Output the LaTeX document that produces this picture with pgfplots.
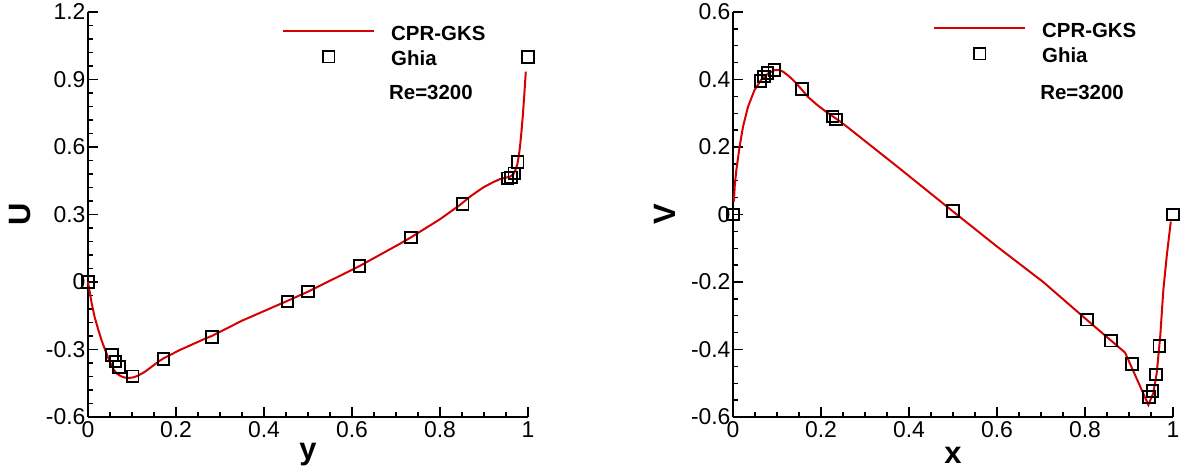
\documentclass[border=0pt]{standalone}
\usepackage{fontspec}
\setmainfont{Liberation Sans}
\usepackage{pgfplots}
\pgfplotsset{compat=1.18}
\definecolor{cprred}{RGB}{215,0,0}

\pgfplotstableread{
x y
0 0
0.004 -0.045
0.0084 -0.095
0.015 -0.155
0.0235 -0.213
0.031 -0.26
0.039 -0.302
0.05 -0.357
0.058 -0.388
0.065 -0.406
0.075 -0.419
0.084 -0.425
0.095 -0.426
0.105 -0.423
0.114 -0.416
0.13 -0.398
0.145 -0.376
0.16 -0.354
0.171 -0.34
0.209 -0.302
0.266 -0.252
0.2813 -0.240
0.35 -0.172
0.4531 -0.084
0.5 -0.043
0.6172 0.071
0.709 0.170
0.7344 0.199
0.8 0.279
0.845 0.342
0.87 0.382
0.898 0.420
0.92 0.443
0.936 0.457
0.948 0.463
0.959 0.468
0.967 0.480
0.972 0.500
0.976 0.525
0.979 0.560
0.982 0.605
0.985 0.665
0.988 0.735
0.991 0.815
0.993 0.875
0.995 0.935
}\cprU

\pgfplotstableread{
x y
0.0000 0.0
0.0547 -0.32407
0.0625 -0.35344
0.0703 -0.37827
0.1016 -0.41933
0.1719 -0.34323
0.2813 -0.24427
0.4531 -0.08636
0.5000 -0.04272
0.6172 0.07156
0.7344 0.19791
0.8516 0.34682
0.9531 0.46101
0.9609 0.46547
0.9688 0.48296
0.9766 0.53236
1.0000 1.0
}\ghiaU

\pgfplotstableread{
x y
0.002 0.038
0.004 0.085
0.0076 0.132
0.015 0.201
0.0227 0.26
0.034 0.319
0.049 0.369
0.064 0.399
0.08 0.418
0.095 0.428
0.105 0.428
0.114 0.423
0.127 0.41
0.14 0.394
0.155 0.372
0.17 0.349
0.19 0.326
0.208 0.308
0.243 0.276
0.261 0.258
0.38 0.135
0.499 0.01
0.6 -0.095
0.705 -0.200
0.804 -0.312
0.891 -0.409
0.944 -0.564
0.955 -0.53
0.963 -0.47
0.971 -0.36
0.978 -0.224
0.986 -0.12
0.995 -0.021
}\cprV

\pgfplotstableread{
x y
0.0000 0.0
0.0625 0.39560
0.0703 0.40917
0.0781 0.41906
0.0938 0.42768
0.1563 0.37119
0.2266 0.29030
0.2344 0.28188
0.5000 0.00999
0.8047 -0.31184
0.8594 -0.37401
0.9063 -0.44307
0.9453 -0.54053
0.9531 -0.52357
0.9609 -0.47425
0.9688 -0.39017
1.0000 0.0
}\ghiaV

\pgfplotsset{
  mystyle/.style={
    scale only axis, width=440bp, height=405bp,
    axis x line*=bottom, axis y line*=left,
    axis line style={line width=2bp, black},
    xmin=0, xmax=1,
    xtick={0,0.2,0.4,0.6,0.8,1},
    xticklabels={0,0.2,0.4,0.6,0.8,1},
    minor x tick num=3,
    tick align=inside,
    major tick length=10bp, minor tick length=5bp,
    every tick/.style={line width=1.4bp, black},
    ticklabel style={font=\fontsize{23}{26}\selectfont},
    xticklabel style={yshift=-1bp},
    yticklabel style={xshift=1bp},
    label style={font=\bfseries\fontsize{31}{34}\selectfont},
    xlabel style={at={(axis description cs:0.5,-0.0938)}, anchor=center},
    ylabel style={at={(axis description cs:-0.1545,0.5)}, anchor=center},
    clip=false,
    legend cell align=left,
    legend style={draw=none, fill=none, inner sep=0pt,
      font=\bfseries\fontsize{20.5}{24}\selectfont,
      nodes={inner sep=0pt, text height=16bp, text depth=5bp},
      row sep=4bp,
      /tikz/every odd column/.append style={column sep=16bp}},
  },
  lineleg/.style={legend image code/.code={\draw[##1] (0bp,4bp) -- (91bp,4bp);}},
  markleg/.style={legend image code/.code={\draw[##1] plot coordinates {(45.5bp,3bp)};}},
}

\begin{document}
\begin{tikzpicture}
\path[use as bounding box] (0,0) rectangle (1182bp,475bp);

\begin{axis}[mystyle, at={(88bp,58bp)}, anchor=south west,
  ymin=-0.6, ymax=1.2,
  ytick={-0.6,-0.3,0,0.3,0.6,0.9,1.2},
  yticklabels={-0.6,-0.3,0,0.3,0.6,0.9,1.2},
  minor y tick num=4,
  xlabel={y}, ylabel={U},
  legend style={at={(axis description cs:0.441,1)}, anchor=north west, yshift=-12bp}]
\addplot[cprred, line width=2bp, lineleg] table {\cprU};
\addlegendentry{CPR-GKS}
\addplot[only marks, mark=square, mark size=5.8bp, black, line width=1.9bp, markleg] table {\ghiaU};
\addlegendentry{Ghia}
\node[anchor=west, inner sep=0pt, font=\bfseries\fontsize{20.5}{24}\selectfont] at (axis cs:0.684,0.844) {Re=3200};
\end{axis}

\begin{axis}[mystyle, at={(733bp,58bp)}, anchor=south west,
  ymin=-0.6, ymax=0.6,
  ytick={-0.6,-0.4,-0.2,0,0.2,0.4,0.6},
  yticklabels={-0.6,-0.4,-0.2,0,0.2,0.4,0.6},
  minor y tick num=3,
  xlabel={x}, ylabel={V},
  legend style={at={(axis description cs:0.4545,1)}, anchor=north west, yshift=-9bp}]
\addplot[cprred, line width=2bp, lineleg] table {\cprV};
\addlegendentry{CPR-GKS}
\addplot[only marks, mark=square, mark size=5.8bp, black, line width=1.9bp, markleg] table {\ghiaV};
\addlegendentry{Ghia}
\node[anchor=west, inner sep=0pt, font=\bfseries\fontsize{20.5}{24}\selectfont] at (axis cs:0.698,0.363) {Re=3200};
\end{axis}
\end{tikzpicture}
\end{document}
